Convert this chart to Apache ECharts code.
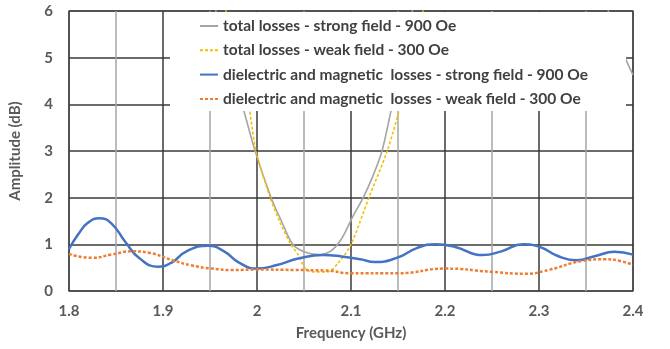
<!DOCTYPE html>
<html><head><meta charset="utf-8">
<script src="https://cdn.jsdelivr.net/npm/echarts@6/dist/echarts.min.js"></script>
<style>html,body{margin:0;padding:0;background:#fff}#c{width:670px;height:349px}</style>
</head><body><div id="c"></div>
<script>
var seriesNames = [
  'total losses - strong field - 900 Oe',
  'total losses - weak field - 300 Oe',
  'dielectric and magnetic  losses - strong field - 900 Oe',
  'dielectric and magnetic  losses - weak field - 300 Oe'
];
var xTickLabels = ['1.8','1.9','2','2.1','2.2','2.3','2.4'];

var grayX = [1.94, 1.955, 1.968, 1.984, 1.998, 2.015, 2.026, 2.038, 2.05, 2.065, 2.078, 2.09, 2.102, 2.113, 2.123, 2.133, 2.144, 2.156, 2.17, 2.25, 2.33, 2.37, 2.392, 2.4];
var grayY = [7.2, 6.1, 5.0, 4.0, 3.0, 2.0, 1.5, 1.0, 0.84, 0.78, 0.85, 1.12, 1.6, 2.0, 2.45, 3.0, 4.0, 5.1, 6.4, 12, 12, 6.3, 4.99, 4.63];

var yellowX = [1.955, 1.967, 1.98, 1.991, 1.999, 2.014, 2.025, 2.036, 2.043, 2.052, 2.061, 2.075, 2.086, 2.1, 2.119, 2.1385, 2.153, 2.165, 2.18];
var yellowY = [7.4, 6.0, 5.0, 4.0, 3.0, 2.0, 1.45, 1.0, 0.8, 0.47, 0.41, 0.41, 0.59, 1.0, 2.0, 3.0, 4.0, 5.0, 6.3];

var blueX = [1.8, 1.81, 1.82, 1.832, 1.845, 1.86, 1.875, 1.895, 1.91, 1.925, 1.948, 1.965, 1.98, 2.0, 2.02, 2.045, 2.07, 2.09, 2.11, 2.125, 2.15, 2.17, 2.19, 2.21, 2.24, 2.26, 2.283, 2.3, 2.32, 2.34, 2.36, 2.38, 2.4];
var blueY = [0.9, 1.22, 1.46, 1.56, 1.45, 1.05, 0.7, 0.52, 0.62, 0.85, 0.97, 0.85, 0.62, 0.48, 0.55, 0.7, 0.77, 0.74, 0.68, 0.62, 0.72, 0.92, 1.0, 0.95, 0.77, 0.85, 1.0, 0.95, 0.75, 0.66, 0.75, 0.84, 0.78];

var orangeX = [1.8, 1.825, 1.845, 1.867, 1.885, 1.91, 1.93, 1.952, 1.975, 2.0, 2.04, 2.072, 2.1, 2.15, 2.2, 2.25, 2.285, 2.31, 2.345, 2.37, 2.385, 2.4];
var orangeY = [0.79, 0.71, 0.78, 0.85, 0.82, 0.66, 0.55, 0.48, 0.45, 0.46, 0.45, 0.44, 0.38, 0.38, 0.48, 0.41, 0.37, 0.45, 0.64, 0.68, 0.65, 0.56];

function zip(xs, ys){ return xs.map(function(x,i){ return [x, ys[i]]; }); }

var solidIcon = 'path://M0,6L18,6L18,8L0,8Z';
var dashIcon = 'path://M0,6h3v2h-3zM5,6h3v2h-3zM10,6h3v2h-3zM15,6h3v2h-3z';
var legendIcons = [solidIcon, dashIcon, solidIcon, dashIcon];

var chart = echarts.init(document.getElementById('c'), null, {renderer:'canvas'});
var labelFont = {fontFamily:'Lato', fontSize:15, fontWeight:'bold', color:'#595959'};
chart.setOption({
  animation:false,
  backgroundColor:'#fff',
  grid:{left:67, right:37, top:11, bottom:58, show:true, borderColor:'#7f7f7f', borderWidth:1.5, backgroundColor:'transparent'},
  legend:{
    orient:'vertical', left:170, top:12,
    padding:[6,38,4,30],
    backgroundColor:'#fff',
    itemWidth:18, itemHeight:14, itemGap:8.3,
    data:seriesNames.map(function(n,i){ return {name:n, icon:legendIcons[i]}; }),
    textStyle:{fontFamily:'Lato', fontSize:15.5, lineHeight:16, fontWeight:'bold', color:'#404040'}
  },
  xAxis:{
    type:'value', min:1.8, max:2.4, interval:0.05,
    name:'Frequency (GHz)', nameLocation:'middle', nameGap:35,
    nameTextStyle:labelFont,
    axisLine:{show:false}, axisTick:{show:false},
    axisLabel:Object.assign({margin:13, formatter:function(v){
      var k = Math.round(v*100);
      if (k % 10 !== 0) return '';
      var s = (k/100).toFixed(1).replace(/\.0$/,'');
      return xTickLabels.indexOf(s) >= 0 ? s : '';
    }}, labelFont),
    splitLine:{show:true, lineStyle:{color:['#3a3a3a','#a6a6a6'], width:1.5}}
  },
  yAxis:{
    type:'value', min:0, max:6, interval:1,
    name:'Amplitude (dB)', nameLocation:'middle', nameGap:46,
    nameTextStyle:labelFont,
    axisLine:{show:false}, axisTick:{show:false},
    axisLabel:Object.assign({margin:16}, labelFont),
    splitLine:{show:true, lineStyle:{color:'#3a3a3a', width:1.5}}
  },
  series:[
    {name:seriesNames[0], type:'line', data:zip(grayX, grayY), smooth:0.3, symbol:'none', clip:true,
     lineStyle:{color:'#a5a5a5', width:1.6}, itemStyle:{color:'#a5a5a5'}},
    {name:seriesNames[1], type:'line', data:zip(yellowX, yellowY), smooth:0.3, symbol:'none', clip:true,
     lineStyle:{color:'#f5c000', width:1.6, type:[3,2]}, itemStyle:{color:'#f5c000'}},
    {name:seriesNames[2], type:'line', data:zip(blueX, blueY), smooth:0.5, symbol:'none', clip:true,
     lineStyle:{color:'#4472c4', width:2.5}, itemStyle:{color:'#4472c4'}},
    {name:seriesNames[3], type:'line', data:zip(orangeX, orangeY), smooth:0.5, symbol:'none', clip:true,
     lineStyle:{color:'#ed7d31', width:2.5, type:[3,2]}, itemStyle:{color:'#ed7d31'}}
  ]
});
</script></body></html>
